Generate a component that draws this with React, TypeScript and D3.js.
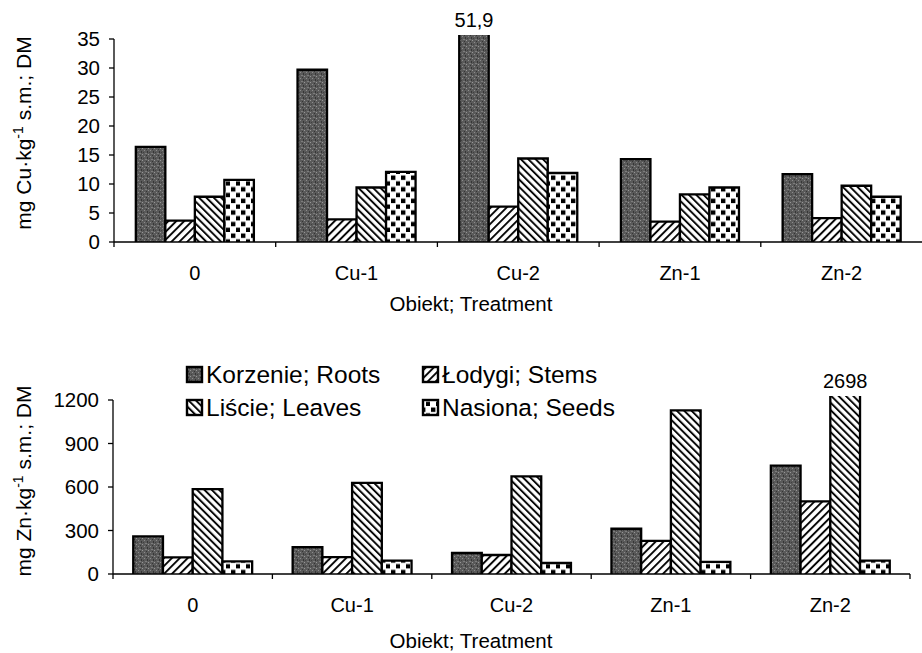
import React from "react";
import * as d3 from "d3";

const categories = ["0", "Cu-1", "Cu-2", "Zn-1", "Zn-2"];
const seriesNames = ["Korzenie; Roots", "Łodygi; Stems", "Liście; Leaves", "Nasiona; Seeds"];
const seriesKeys = ["roots", "stems", "leaves", "seeds"];

const cuRoots = [16.4, 29.7, 51.9, 14.3, 11.7];
const cuStems = [3.7, 3.9, 6.1, 3.5, 4.1];
const cuLeaves = [7.8, 9.4, 14.4, 8.2, 9.7];
const cuSeeds = [10.7, 12.1, 11.9, 9.4, 7.8];

const znRoots = [259, 186, 145, 312, 747];
const znStems = [115, 117, 131, 228, 501];
const znLeaves = [586, 628, 673, 1128, 2698];
const znSeeds = [87, 92, 76, 83, 92];

const cuTicks = [0, 5, 10, 15, 20, 25, 30, 35];
const znTicks = [0, 300, 600, 900, 1200];

const FONT = "'Liberation Sans', Arial, Helvetica, sans-serif";

type PanelProps = {
  series: number[][];
  ticks: number[];
  yMax: number;
  x0: number;
  x1: number;
  yTop: number;
  yBottom: number;
  groupFrac: number;
  endTick: boolean;
  element: string;
  yLabelY: number;
  catBaseline: number;
  titleBaseline: number;
};

function Panel(p: PanelProps) {
  const x = d3.scaleBand<string>().domain(categories).range([p.x0, p.x1]).padding(0);
  const y = d3.scaleLinear().domain([0, p.yMax]).range([p.yBottom, p.yTop]);
  const bw = x.bandwidth();
  const gw = bw * p.groupFrac;
  const xi = d3.scaleBand<string>().domain(seriesKeys).range([0, gw]).padding(0);
  const tickXs = categories.map((c) => x(c) as number);
  if (p.endTick) tickXs.push(p.x1);
  const fmt = (v: number) => String(v).replace(".", ",");
  return (
    <g>
      {categories.map((c, ci) => {
        const gx = (x(c) as number) + (bw - gw) / 2;
        return (
          <g key={c}>
            {seriesKeys.map((k, si) => {
              const v = p.series[si][ci];
              const clipped = v > p.yMax;
              const top = clipped ? y(p.yMax) - 4 : y(v);
              const bx = gx + (xi(k) as number);
              const w = xi.bandwidth();
              const b = y(0);
              const d = clipped
                ? `M${bx},${b}V${top}M${bx + w},${top}V${b}`
                : `M${bx},${b}V${top}H${bx + w}V${b}`;
              return (
                <g key={k}>
                  <rect x={bx} y={top} width={w} height={b - top} fill={`url(#pat-${k})`} />
                  <path d={d} fill="none" stroke="#000" strokeWidth={2.3} />
                  {clipped && (
                    <text
                      x={bx + w / 2}
                      y={top - 8}
                      textAnchor="middle"
                      fontSize={20}
                      fontFamily={FONT}
                    >
                      {fmt(v)}
                    </text>
                  )}
                </g>
              );
            })}
          </g>
        );
      })}
      <line x1={p.x0} x2={p.x1} y1={y(0)} y2={y(0)} stroke="#000" strokeWidth={1.5} />
      <line x1={p.x0} x2={p.x0} y1={y(0)} y2={y(p.yMax)} stroke="#000" strokeWidth={1.3} />
      {tickXs.map((tx, i) => (
        <line key={i} x1={tx} x2={tx} y1={y(0)} y2={y(0) + 5} stroke="#000" strokeWidth={1.3} />
      ))}
      {p.ticks.map((t) => (
        <g key={t}>
          <line x1={p.x0 - 5} x2={p.x0} y1={y(t)} y2={y(t)} stroke="#000" strokeWidth={1.3} />
          <text
            x={p.x0 - 14}
            y={y(t)}
            dy="0.36em"
            textAnchor="end"
            fontSize={20.5}
            fontFamily={FONT}
          >
            {t}
          </text>
        </g>
      ))}
      {categories.map((c) => (
        <text
          key={c}
          x={(x(c) as number) + bw / 2}
          y={p.catBaseline}
          textAnchor="middle"
          fontSize={20}
          fontFamily={FONT}
        >
          {c}
        </text>
      ))}
      <text x={471} y={p.titleBaseline} textAnchor="middle" fontSize={20.5} fontFamily={FONT}>
        Obiekt; Treatment
      </text>
      <text
        transform={`translate(31,${p.yLabelY}) rotate(-90)`}
        textAnchor="middle"
        fontSize={21}
        fontFamily={FONT}
      >
        {`mg ${p.element}·kg`}
        <tspan baselineShift="super" fontSize={14}>-1</tspan>
        {" s.m.; DM"}
      </text>
    </g>
  );
}

export default function App() {
  const legendPos = [
    { bx: 187, by: 367, tx: 206, ty: 383 },
    { bx: 423, by: 367, tx: 442, ty: 383 },
    { bx: 187, by: 400, tx: 206, ty: 416 },
    { bx: 423, by: 400, tx: 442, ty: 416 },
  ];
  return (
    <svg
      width={922}
      height={653}
      style={{ position: "absolute", left: 0, top: 0, background: "#fff" }}
    >
      <defs>
        <pattern id="pat-roots" patternUnits="userSpaceOnUse" width={6} height={6}>
          <rect width={6} height={6} fill="#5a5a5a" />
          <rect x={0} y={0} width={1} height={1} fill="#8c8c8c" />
          <rect x={3} y={1} width={1} height={2} fill="#363636" />
          <rect x={1} y={3} width={2} height={1} fill="#7c7c7c" />
          <rect x={4} y={4} width={1} height={1} fill="#969696" />
          <rect x={5} y={2} width={1} height={1} fill="#404040" />
          <rect x={2} y={5} width={1} height={1} fill="#353535" />
        </pattern>
        <pattern
          id="pat-stems"
          patternUnits="userSpaceOnUse"
          width={5.6}
          height={5.6}
          patternTransform="rotate(45)"
        >
          <rect width={5.6} height={5.6} fill="#fff" />
          <line x1={1} x2={1} y1={0} y2={5.6} stroke="#000" strokeWidth={1.9} />
        </pattern>
        <pattern
          id="pat-leaves"
          patternUnits="userSpaceOnUse"
          width={5.2}
          height={5.2}
          patternTransform="rotate(-45)"
        >
          <rect width={5.2} height={5.2} fill="#fff" />
          <line x1={1} x2={1} y1={0} y2={5.2} stroke="#000" strokeWidth={1.9} />
        </pattern>
        <pattern id="pat-seeds" patternUnits="userSpaceOnUse" width={10} height={11.6}>
          <rect width={10} height={11.6} fill="#fff" />
          <rect x={1} y={1.5} width={4.4} height={4.4} fill="#000" />
          <rect x={6} y={7.3} width={4.4} height={4.4} fill="#000" />
        </pattern>
      </defs>
      <Panel
        series={[cuRoots, cuStems, cuLeaves, cuSeeds]}
        ticks={cuTicks}
        yMax={35}
        x0={114}
        x1={922.5}
        yTop={39}
        yBottom={242}
        groupFrac={0.73}
        endTick={false}
        element="Cu"
        yLabelY={133}
        catBaseline={280}
        titleBaseline={311}
      />
      <Panel
        series={[znRoots, znStems, znLeaves, znSeeds]}
        ticks={znTicks}
        yMax={1200}
        x0={113}
        x1={910}
        yTop={400}
        yBottom={574}
        groupFrac={0.746}
        endTick={true}
        element="Zn"
        yLabelY={481}
        catBaseline={612}
        titleBaseline={648}
      />
      {seriesKeys.map((k, i) => (
        <g key={k}>
          <rect
            x={legendPos[i].bx}
            y={legendPos[i].by}
            width={15}
            height={15}
            fill={`url(#pat-${k})`}
            stroke="#000"
            strokeWidth={2.4}
          />
          <text x={legendPos[i].tx} y={legendPos[i].ty} fontSize={24.5} fontFamily={FONT}>
            {seriesNames[i]}
          </text>
        </g>
      ))}
    </svg>
  );
}
